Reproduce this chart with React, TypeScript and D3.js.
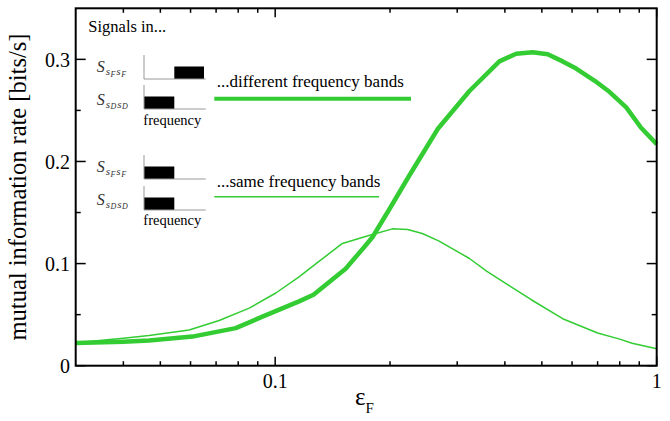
import React from "react";
import * as d3 from "d3";

// ---- data ----
const epsThick = [0.03, 0.04, 0.0467, 0.0607, 0.0788, 0.0926, 0.1155, 0.126, 0.153, 0.171, 0.18, 0.199, 0.2245, 0.267, 0.323, 0.387, 0.428, 0.473, 0.518, 0.567, 0.615, 0.688, 0.753, 0.832, 0.91, 1.0];
const miThick = [0.0222, 0.0235, 0.0246, 0.0285, 0.0368, 0.048, 0.063, 0.0695, 0.095, 0.116, 0.126, 0.153, 0.186, 0.232, 0.269, 0.298, 0.3055, 0.307, 0.305, 0.298, 0.291, 0.279, 0.268, 0.253, 0.233, 0.217];
const epsThin = [0.03, 0.04, 0.0467, 0.0595, 0.0713, 0.0855, 0.1004, 0.1155, 0.127, 0.15, 0.176, 0.203, 0.2225, 0.243, 0.269, 0.323, 0.359, 0.469, 0.567, 0.7, 0.8, 0.862, 1.0];
const miThin = [0.0225, 0.027, 0.0295, 0.035, 0.0442, 0.0564, 0.0712, 0.087, 0.099, 0.1197, 0.1275, 0.134, 0.1334, 0.1295, 0.122, 0.105, 0.0924, 0.0646, 0.046, 0.032, 0.026, 0.022, 0.0165];

const xMajorTicks = [0.1, 1];
const xTickLabels = ["0.1", "1"];
const xMinorTicks = [0.04, 0.05, 0.06, 0.07, 0.08, 0.09, 0.2, 0.3, 0.4, 0.5, 0.6, 0.7, 0.8, 0.9];
const yMajorTicks = [0, 0.1, 0.2, 0.3];
const yTickLabels = ["0", "0.1", "0.2", "0.3"];
const yMinorTicks = [0.05, 0.15, 0.25];

const xDomain = [0.03, 1];
const yDomain = [0, 0.35];

const GREEN = "#33cc33";
const FONT = "Liberation Serif, Times New Roman, serif";

const L = 75.7, R = 656.7, T = 8.3, B = 365.7;

function MiniPlot({ y0, bandRight }: { y0: number; bandRight: boolean }) {
  const x0 = 144, x1 = 205.7, h = 24, bh = 12.5;
  const rx = bandRight ? 174.3 : 144;
  const rw = bandRight ? 29.7 : 30.3;
  return (
    <g>
      <rect x={rx} y={y0 - bh} width={rw} height={bh} fill="#000" />
      <line x1={x0} y1={y0 - h} x2={x0} y2={y0} stroke="#999" strokeWidth={1} />
      <line x1={x0} y1={y0} x2={x1} y2={y0} stroke="#999" strokeWidth={1} />
    </g>
  );
}

function SLabel({ y, sub }: { y: number; sub: string }) {
  return (
    <text x={96.7} y={y} fontFamily={FONT} fontStyle="italic" fill="#333" fontSize={16}>
      S
      <tspan fontSize={11} dy={3} dx={1}>s</tspan>
      <tspan fontSize={8} dy={1.5} dx={0.5}>{sub}</tspan>
      <tspan fontSize={11} dy={-1.5} dx={1}>s</tspan>
      <tspan fontSize={8} dy={1.5} dx={0.5}>{sub}</tspan>
    </text>
  );
}

export default function App() {
  const x = d3.scaleLog().domain(xDomain).range([L, R]);
  const y = d3.scaleLinear().domain(yDomain).range([B, T]);
  const line = d3
    .line<[number, number]>()
    .x((d) => x(d[0]))
    .y((d) => y(d[1]));
  const thick = line(epsThick.map((e, i) => [e, miThick[i]] as [number, number]))!;
  const thin = line(epsThin.map((e, i) => [e, miThin[i]] as [number, number]))!;

  return (
    <svg
      width={670}
      height={421}
      style={{ position: "absolute", left: 0, top: 0, background: "#fff" }}
    >
      <rect x={0} y={0} width={670} height={421} fill="#fff" />
      <path d={thin} fill="none" stroke={GREEN} strokeWidth={1.5} strokeLinejoin="round" />
      <path d={thick} fill="none" stroke={GREEN} strokeWidth={4.5} strokeLinejoin="round" />

      <rect x={L} y={T} width={R - L} height={B - T} fill="none" stroke="#000" strokeWidth={2} />

      {xMajorTicks.map((t) => (
        <g key={"xM" + t}>
          <line x1={x(t)} x2={x(t)} y1={B} y2={B - 9} stroke="#000" strokeWidth={1.5} />
          <line x1={x(t)} x2={x(t)} y1={T} y2={T + 9} stroke="#000" strokeWidth={1.5} />
        </g>
      ))}
      {xMinorTicks.map((t) => (
        <g key={"xm" + t}>
          <line x1={x(t)} x2={x(t)} y1={B} y2={B - 4.5} stroke="#000" strokeWidth={1.5} />
          <line x1={x(t)} x2={x(t)} y1={T} y2={T + 4.5} stroke="#000" strokeWidth={1.5} />
        </g>
      ))}
      {xMajorTicks.map((t, i) => (
        <text key={"xl" + t} x={x(t)} y={387.5} textAnchor="middle" fontFamily={FONT} fontSize={20}>
          {xTickLabels[i]}
        </text>
      ))}

      {yMajorTicks.map((t) => (
        <g key={"yM" + t}>
          <line x1={L} x2={L + 10} y1={y(t)} y2={y(t)} stroke="#000" strokeWidth={1.5} />
          <line x1={R} x2={R - 10} y1={y(t)} y2={y(t)} stroke="#000" strokeWidth={1.5} />
        </g>
      ))}
      {yMinorTicks.map((t) => (
        <g key={"ym" + t}>
          <line x1={L} x2={L + 5} y1={y(t)} y2={y(t)} stroke="#000" strokeWidth={1.5} />
          <line x1={R} x2={R - 5} y1={y(t)} y2={y(t)} stroke="#000" strokeWidth={1.5} />
        </g>
      ))}
      {yMajorTicks.map((t, i) => (
        <text key={"yl" + t} x={70} y={y(t) + 7.5} textAnchor="end" fontFamily={FONT} fontSize={20}>
          {yTickLabels[i]}
        </text>
      ))}

      <text
        transform={`translate(26, ${(T + B) / 2}) rotate(-90)`}
        textAnchor="middle"
        fontFamily={FONT}
        fontSize={24.5}
      >
        mutual information rate [bits/s]
      </text>
      <text x={355} y={405} fontFamily={FONT} fontSize={25}>
        ε<tspan fontSize={15} dy={8}>F</tspan>
      </text>

      <text x={88.3} y={31.7} fontFamily={FONT} fontSize={16.5}>Signals in...</text>

      <MiniPlot y0={79} bandRight={true} />
      <MiniPlot y0={109} bandRight={false} />
      <SLabel y={72} sub="F" />
      <SLabel y={104.5} sub="D" />
      <text x={143.3} y={124.5} fontFamily={FONT} fontSize={14.5}>frequency</text>
      <text x={216.7} y={87.3} fontFamily={FONT} fontSize={17}>...different frequency bands</text>
      <line x1={214.3} x2={411} y1={98.7} y2={98.7} stroke={GREEN} strokeWidth={4} />

      <MiniPlot y0={179} bandRight={false} />
      <MiniPlot y0={210} bandRight={false} />
      <SLabel y={172} sub="F" />
      <SLabel y={204.5} sub="D" />
      <text x={143.3} y={224.5} fontFamily={FONT} fontSize={14.5}>frequency</text>
      <text x={216.7} y={187.3} fontFamily={FONT} fontSize={17}>...same frequency bands</text>
      <line x1={214.3} x2={379} y1={196.7} y2={196.7} stroke={GREEN} strokeWidth={1.5} />
    </svg>
  );
}
